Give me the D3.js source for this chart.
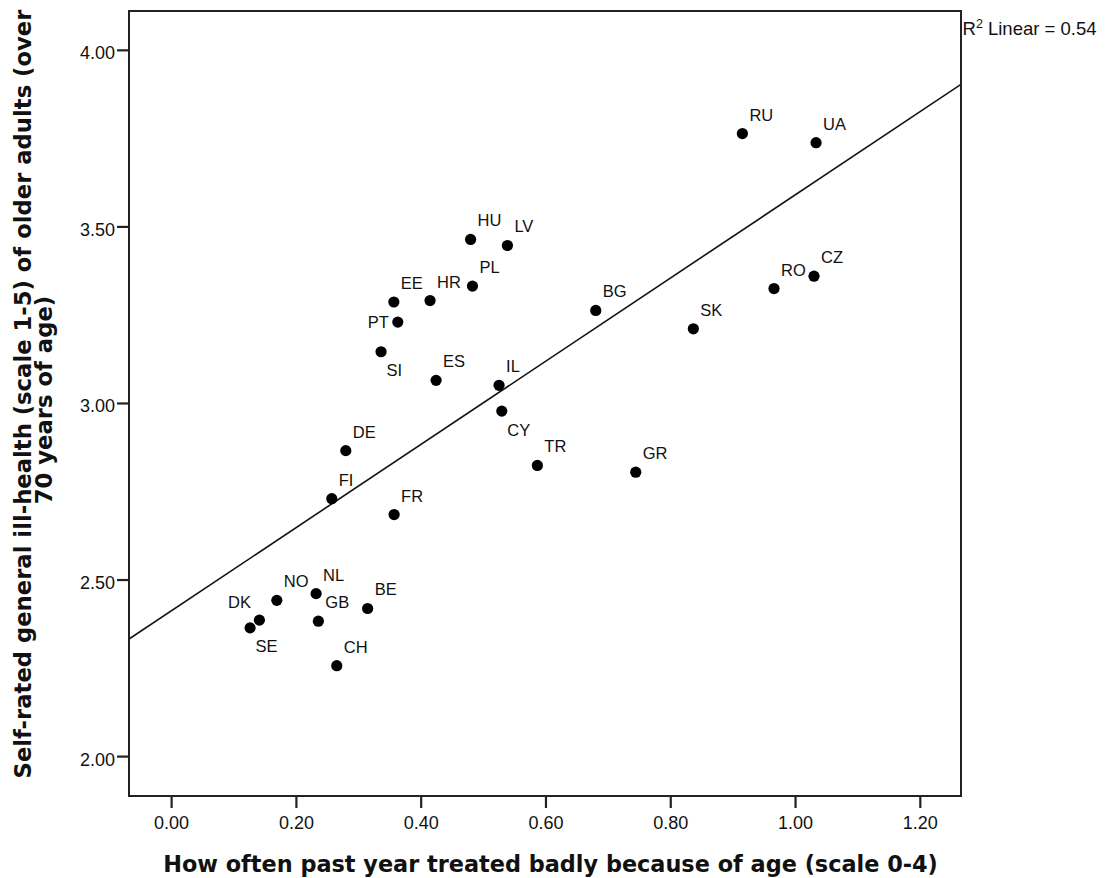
<!DOCTYPE html>
<html><head><meta charset="utf-8">
<script src="https://cdn.jsdelivr.net/npm/d3@7"></script>
<style>
body{margin:0;background:#fff;}
svg{display:block;}
</style></head><body>
<svg id="chart" width="1106" height="878"></svg>
<script>
// ---- data ----
const countries = ["DK","SE","NO","NL","GB","BE","CH","FI","DE","FR","SI","PT","EE","HR","ES","PL","HU","LV","IL","CY","TR","BG","GR","SK","RU","RO","CZ","UA"];
const treatedBadly = [0.1415,0.1266,0.1694,0.2324,0.2360,0.3150,0.2655,0.2575,0.2800,0.3574,0.3365,0.3633,0.3570,0.4150,0.4247,0.4830,0.4800,0.5390,0.5256,0.5300,0.5870,0.6806,0.7447,0.8370,0.9156,0.9663,1.0304,1.0337];
const illHealth    = [2.385,2.363,2.441,2.460,2.382,2.418,2.256,2.729,2.865,2.684,3.145,3.229,3.286,3.290,3.064,3.331,3.463,3.446,3.050,2.977,2.823,3.262,2.804,3.210,3.763,3.324,3.359,3.737];
const labelSide    = ["ul","dr","ur","ur","ur","ur","ur","ur","ur","ur","dr","l","ur","ur","ur","ur","ur","ur","ur","dr","ur","ur","ur","ur","ur","ur","ur","ur"];
const xTicks = [0, 0.2, 0.4, 0.6, 0.8, 1.0, 1.2];
const yTicks = [2.0, 2.5, 3.0, 3.5, 4.0];
const xDomain = [-0.0675, 1.266];
const yDomain = [1.887, 4.11];
const fitIntercept = 2.411, fitSlope = 1.178, rSquared = 0.54;
const xTitle = "How often past year treated badly because of age (scale 0-4)";
const yTitleLines = ["Self-rated general ill-health (scale 1-5) of older adults (over", "70 years of age)"];

// ---- layout ----
const svg = d3.select("#chart");
const L = 129, R = 961, T = 11, B = 796;
const x = d3.scaleLinear().domain(xDomain).range([L, R]);
const y = d3.scaleLinear().domain(yDomain).range([B, T]);
const numFont = "'Liberation Sans', Arial, sans-serif";
const titleFont = "'DejaVu Sans', Verdana, sans-serif";

// clip
svg.append("defs").append("clipPath").attr("id","plotclip")
  .append("rect").attr("x",L).attr("y",T).attr("width",R-L).attr("height",B-T);

// regression line
svg.append("line")
  .attr("clip-path","url(#plotclip)")
  .attr("x1", x(xDomain[0])).attr("y1", y(fitIntercept + fitSlope*xDomain[0]))
  .attr("x2", x(xDomain[1])).attr("y2", y(fitIntercept + fitSlope*xDomain[1]))
  .attr("stroke","#111").attr("stroke-width",1.6);

// frame
svg.append("rect").attr("x",L).attr("y",T).attr("width",R-L).attr("height",B-T)
  .attr("fill","none").attr("stroke","#222").attr("stroke-width",2);

// axes
const xAxis = svg.append("g").attr("transform",`translate(0,${B})`)
  .call(d3.axisBottom(x).tickValues(xTicks).tickFormat(d3.format(".2f")).tickSize(12).tickPadding(8));
const yAxis = svg.append("g").attr("transform",`translate(${L},0)`)
  .call(d3.axisLeft(y).tickValues(yTicks).tickFormat(d3.format(".2f")).tickSize(12).tickPadding(2));
[xAxis,yAxis].forEach(g=>{
  g.select(".domain").remove();
  g.selectAll(".tick line").attr("stroke","#222").attr("stroke-width",2.2);
  g.selectAll(".tick text").attr("fill","#111").style("font-family",numFont).style("font-size","18px");
});
yAxis.selectAll(".tick text").attr("dy","0.5em");

// points
const pts = countries.map((c,i)=>({c, vx:treatedBadly[i], vy:illHealth[i], side:labelSide[i]}));
svg.append("g").selectAll("circle").data(pts).join("circle")
  .attr("cx",d=>x(d.vx)).attr("cy",d=>y(d.vy)).attr("r",5.6).attr("fill","#000");

// labels
const off = {ur:{dx:7,dy:-13,a:"start"}, dr:{dx:5.5,dy:24.5,a:"start"}, ul:{dx:-8.5,dy:-12,a:"end"}, l:{dx:-9,dy:5.5,a:"end"}};
svg.append("g").selectAll("text").data(pts).join("text")
  .attr("x",d=>x(d.vx)+off[d.side].dx).attr("y",d=>y(d.vy)+off[d.side].dy)
  .attr("text-anchor",d=>off[d.side].a)
  .style("font-family",numFont).style("font-size","16.5px").attr("fill","#111")
  .text(d=>d.c);

// R squared label
const r2 = svg.append("text").attr("x",962.5).attr("y",35)
  .style("font-family",numFont).style("font-size","18.5px").attr("fill","#111");
r2.append("tspan").text("R");
r2.append("tspan").attr("dy",-7).style("font-size","12.5px").text("2");
r2.append("tspan").attr("dy",7).text(" Linear = " + rSquared.toFixed(2));

// x title
const xt = svg.append("text").attr("x",550.5).attr("y",871.5).attr("text-anchor","middle")
  .style("font-family",titleFont).style("font-weight","bold").style("font-size","20px").attr("fill","#111")
  .text(xTitle);
const xw = xt.node().getComputedTextLength();
xt.style("font-size", (20*775/xw).toFixed(2)+"px");

// y title
const yc = 394;
const yt = svg.append("g").attr("transform",`translate(0,${yc}) rotate(-90)`);
const yl1 = yt.append("text").attr("x",0).attr("y",31).attr("text-anchor","middle")
  .style("font-family",titleFont).style("font-weight","bold").style("font-size","20px").attr("fill","#111")
  .text(yTitleLines[0]);
const yw = yl1.node().getComputedTextLength();
const yfs = (20*769/yw).toFixed(2);
yl1.style("font-size", yfs+"px");
yt.append("text").attr("x",-6).attr("y",52).attr("text-anchor","middle")
  .style("font-family",titleFont).style("font-weight","bold").style("font-size",yfs+"px").attr("fill","#111")
  .text(yTitleLines[1]);
</script>
</body></html>
